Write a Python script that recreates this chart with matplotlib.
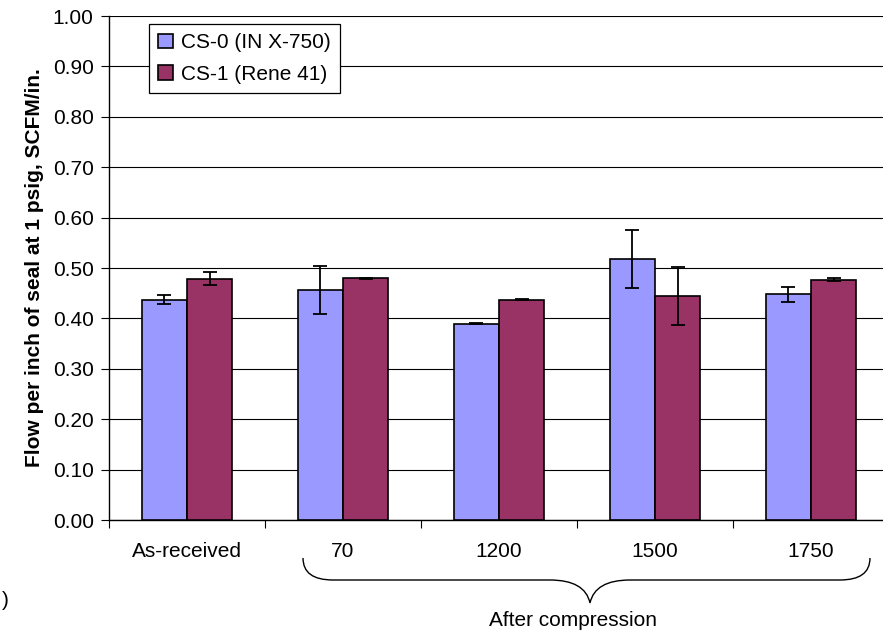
import numpy as np
import matplotlib.pyplot as plt
from matplotlib.path import Path
from matplotlib.patches import PathPatch

plt.rcParams['font.family'] = ['Liberation Sans', 'DejaVu Sans']

# Datos
categories = ["As-received", "70", "1200", "1500", "1750"]
cs0_values = [0.437, 0.456, 0.389, 0.518, 0.448]
cs0_errors = [0.009, 0.047, 0.001, 0.058, 0.015]
cs1_values = [0.479, 0.480, 0.437, 0.444, 0.477]
cs1_errors = [0.013, 0.001, 0.001, 0.057, 0.003]
series_labels = ["CS-0 (IN X-750)", "CS-1 (Rene 41)"]

fig = plt.figure(figsize=(8.83, 6.37), dpi=100)
ax = fig.add_axes([109/883, 1 - 520/637, 780/883, 504/637])

x = np.arange(len(categories))
w = 0.29
err_kw = dict(ecolor='black', elinewidth=1.3, capsize=5, capthick=1.3)
ax.bar(x - w/2, cs0_values, w, yerr=cs0_errors, color='#9999FF', edgecolor='black',
       linewidth=1.2, label=series_labels[0], error_kw=err_kw, zorder=3)
ax.bar(x + w/2, cs1_values, w, yerr=cs1_errors, color='#993366', edgecolor='black',
       linewidth=1.2, label=series_labels[1], error_kw=err_kw, zorder=3)

ax.set_xlim(-0.5, len(categories) - 0.5)
ax.set_ylim(0, 1.0)
ax.set_yticks(np.arange(0, 1.01, 0.1))
ax.set_yticklabels([f"{v:.2f}" for v in np.arange(0, 1.01, 0.1)], fontsize=15)
ax.yaxis.grid(True, color='black', linewidth=0.8, zorder=0)
ax.set_axisbelow(True)

ax.set_xticks(np.arange(-0.5, len(categories) - 0.5, 1.0))
ax.set_xticklabels([])
ax.set_xticks(x, minor=True)
ax.set_xticklabels(categories, minor=True, fontsize=15)
ax.tick_params(axis='x', which='minor', length=0, pad=16)
ax.tick_params(axis='x', which='major', length=6, width=0.8)
ax.tick_params(axis='y', length=6, width=0.8, pad=5)

for s in ['top', 'right']:
    ax.spines[s].set_visible(False)
ax.spines['left'].set_linewidth(1.0)
ax.spines['bottom'].set_linewidth(1.0)

ax.set_ylabel("Flow per inch of seal at 1 psig, SCFM/in.", fontsize=15, fontweight='bold', labelpad=6)

leg = ax.legend(loc='upper left', bbox_to_anchor=(40/780, 1 - 8/504), fontsize=15,
                frameon=True, fancybox=False, edgecolor='black', framealpha=1,
                handlelength=0.7, handleheight=0.7, borderpad=0.45, labelspacing=0.6,
                handletextpad=0.4, borderaxespad=0)
leg.get_frame().set_linewidth(0.9)

# Llave bajo las categorias de compresion
def px(xp, yp):
    return (xp / 883, 1 - yp / 637)

x0, x1, xm = 303, 870, 590
ytop, ymid, ytip = 558, 580, 603
verts = [px(x0, ytop), px(x0, ymid), px(x0 + 30, ymid), px(x0 + 40, ymid),
         px(xm - 40, ymid), px(xm - 5, ymid), px(xm, ytip),
         px(xm + 5, ymid), px(xm + 40, ymid),
         px(x1 - 40, ymid), px(x1 - 30, ymid), px(x1, ymid), px(x1, ytop)]
codes = [Path.MOVETO, Path.CURVE3, Path.CURVE3, Path.LINETO,
         Path.LINETO, Path.CURVE3, Path.CURVE3,
         Path.CURVE3, Path.CURVE3,
         Path.LINETO, Path.LINETO, Path.CURVE3, Path.CURVE3]
brace = PathPatch(Path(verts, codes), transform=fig.transFigure, fill=False,
                  edgecolor='black', linewidth=1.0)
fig.patches.append(brace)

fig.text(573/883, 1 - 621/637, "After compression", ha='center', va='center', fontsize=15)
fig.text(2/883, 1 - 600/637, ")", ha='left', va='center', fontsize=15)

fig.savefig("out.png", dpi=100)
